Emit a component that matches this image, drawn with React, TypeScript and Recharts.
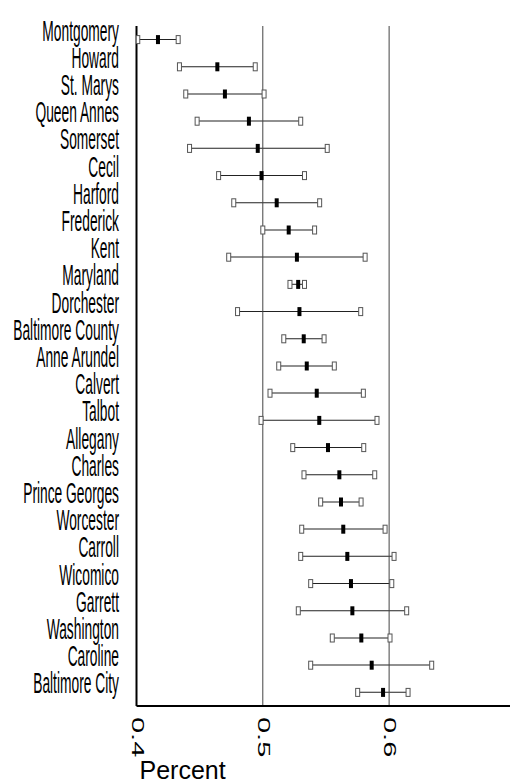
import * as React from "react";
import {
  Bar,
  ComposedChart,
  ReferenceLine,
  Scatter,
  XAxis,
  YAxis,
} from "recharts";

// county estimates with lower / upper bounds, top to bottom
const counties = [
  "Montgomery", "Howard", "St. Marys", "Queen Annes", "Somerset", "Cecil",
  "Harford", "Frederick", "Kent", "Maryland", "Dorchester", "Baltimore County",
  "Anne Arundel", "Calvert", "Talbot", "Allegany", "Charles", "Prince Georges",
  "Worcester", "Carroll", "Wicomico", "Garrett", "Washington", "Caroline",
  "Baltimore City",
];
const lows = [
  0.401, 0.434, 0.439, 0.448, 0.442, 0.465, 0.477, 0.5, 0.473, 0.5215, 0.48,
  0.5166, 0.5126, 0.5057, 0.4986, 0.5237, 0.5326, 0.5458, 0.5308, 0.53,
  0.5379, 0.5281, 0.555, 0.5379, 0.5751,
];
const mids = [
  0.417, 0.464, 0.47, 0.489, 0.496, 0.499, 0.511, 0.5205, 0.527, 0.528, 0.529,
  0.5324, 0.5348, 0.5427, 0.5447, 0.5516, 0.5606, 0.5619, 0.5637, 0.5669,
  0.5698, 0.5709, 0.578, 0.5862, 0.5952,
];
const highs = [
  0.433, 0.494, 0.501, 0.53, 0.551, 0.533, 0.545, 0.541, 0.581, 0.533, 0.5775,
  0.5485, 0.5566, 0.5796, 0.5904, 0.5799, 0.5886, 0.5778, 0.5968, 0.6039,
  0.6021, 0.6139, 0.6007, 0.6337, 0.615,
];
const xTicks = [0.4, 0.5, 0.6];
const gridLines = [0.5, 0.6];

const FONT = "'Liberation Sans', Arial, sans-serif";

const data = counties.map((name, i) => ({
  name,
  low: lows[i],
  mid: mids[i],
  high: highs[i],
  range: [lows[i], highs[i]],
}));

function BoundMark(props: any) {
  const { cx, cy } = props;
  if (cx == null || cy == null) return null;
  return (
    <rect x={cx - 2} y={cy - 4} width={4} height={8} fill="#fff" stroke="#555" strokeWidth={1} />
  );
}

function MidMark(props: any) {
  const { cx, cy } = props;
  if (cx == null || cy == null) return null;
  return <rect x={cx - 2} y={cy - 4.5} width={4} height={9} fill="#000" />;
}

function CountyTick(props: any) {
  const { y, payload } = props;
  return (
    <text
      transform={`translate(119, ${y + 1}) scale(0.46, 1)`}
      textAnchor="end"
      fontSize={30}
      fontFamily={FONT}
      fill="#000"
    >
      {payload.value}
    </text>
  );
}

function PercentTick(props: any) {
  const { x, payload } = props;
  return (
    <text
      transform={`translate(${x - 5}, 717) rotate(90) scale(1, 0.58)`}
      fontSize={29}
      fontFamily={FONT}
      fill="#000"
    >
      {String(payload.value)}
    </text>
  );
}

export default function App() {
  return (
    <div style={{ position: "absolute", left: 0, top: 0, width: 510, height: 783, background: "#fff" }}>
      <ComposedChart
        width={510}
        height={783}
        data={data}
        layout="vertical"
        margin={{ top: 26, right: 0, bottom: 0, left: 0 }}
      >
        <XAxis
          type="number"
          domain={[0.4, 0.6957]}
          ticks={xTicks}
          tick={<PercentTick />}
          tickLine={false}
          axisLine={{ stroke: "#000", strokeWidth: 2 }}
          height={77}
          allowDataOverflow
          label={(p: any) => (
            <text
              x={p.viewBox.x + 3}
              y={p.viewBox.y + 73}
              fontSize={25}
              fontFamily={FONT}
              fill="#000"
            >
              Percent
            </text>
          )}
        />
        <YAxis
          type="category"
          dataKey="name"
          width={136.5}
          tick={<CountyTick />}
          tickLine={false}
          interval={0}
          axisLine={{ stroke: "#000", strokeWidth: 2 }}
        />
        {gridLines.map((v) => (
          <ReferenceLine key={v} x={v} stroke="#444" strokeWidth={1} />
        ))}
        <Bar dataKey="range" barSize={1} fill="#222" isAnimationActive={false} />
        <Scatter dataKey="low" shape={<BoundMark />} isAnimationActive={false} />
        <Scatter dataKey="high" shape={<BoundMark />} isAnimationActive={false} />
        <Scatter dataKey="mid" shape={<MidMark />} isAnimationActive={false} />
      </ComposedChart>
    </div>
  );
}
